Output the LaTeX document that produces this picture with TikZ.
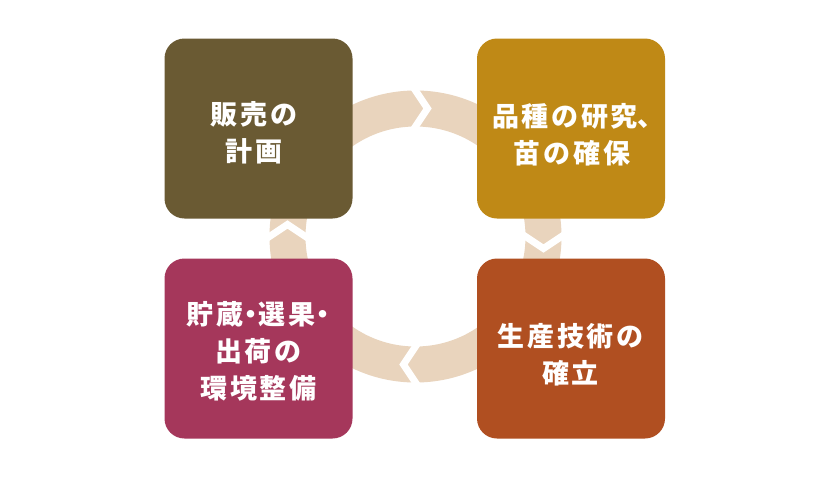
\documentclass[tikz,border=0pt]{standalone}
\usepackage{fontspec}
\newfontfamily\jp{Noto Sans CJK JP}[LetterSpace=10]
\definecolor{cTL}{HTML}{6A5A33}
\definecolor{cTR}{HTML}{BF8916}
\definecolor{cBR}{HTML}{B04F21}
\definecolor{cBL}{HTML}{A5375B}
\definecolor{ringc}{HTML}{E9D4BD}
\newcommand\myNaka{\makebox[15pt]{・}}
\newcommand\myTou{\makebox[14pt][l]{、}}
\begin{document}
\begin{tikzpicture}[x=1pt,y=-1pt,
  box/.style={minimum width=188pt,minimum height=180pt,rounded corners=20pt,inner sep=0pt,draw=none},
  lbl/.style={text=white,font=\jp\bfseries\fontsize{27}{37}\selectfont,align=center,inner sep=0pt},
  chev/.style={draw=white,line width=7pt,line join=miter}]
\useasboundingbox (0,0) rectangle (830,480);
\fill[white] (0,0) rectangle (830,480);
\coordinate (c) at (415.5,236.5);
\draw[ringc,line width=36pt] (c) circle[radius=128pt];
% chevrons (clockwise)
\draw[chev,shift={(c)}] (-6.7,-156) -- (12,-128) -- (-6.7,-100);
\draw[chev,shift={(c)}] (100,-6.7) -- (128,12) -- (156,-6.7);
\draw[chev,shift={(c)}] (6.7,100) -- (-12,128) -- (6.7,156);
\draw[chev,shift={(c)}] (-100,6.7) -- (-128,-12) -- (-156,6.7);
% boxes
\node[box,fill=cTL] (tl) at (258.5,128.5) {};
\node[box,fill=cTR] (tr) at (571,128.5) {};
\node[box,fill=cBL] (bl) at (258.5,348.5) {};
\node[box,fill=cBR] (br) at (571,348.5) {};
% labels
\node[lbl] (tlt) at (254,132.5) {販売の\\計画};
\node[lbl] (trt) at (572,135) {品種の研究\myTou\\苗の確保};
\node[lbl] (blt) at (258.5,351) {貯蔵\myNaka 選果\myNaka\\出荷の\\環境整備};
\node[lbl] (brt) at (570.5,354.5) {生産技術の\\確立};
\end{tikzpicture}
\end{document}
